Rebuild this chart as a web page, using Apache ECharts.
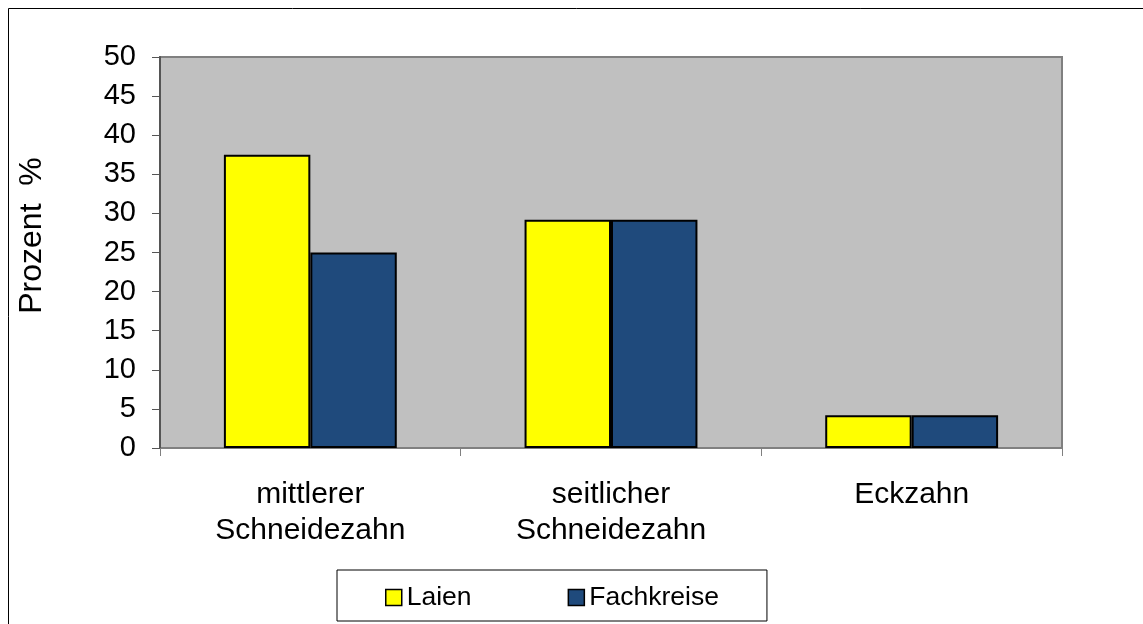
<!DOCTYPE html>
<html>
<head>
<meta charset="utf-8">
<script src="https://cdn.jsdelivr.net/npm/echarts@6/dist/echarts.min.js"></script>
<style>
html,body{margin:0;padding:0;background:#fff;}
#c{width:1143px;height:624px;}
</style>
</head>
<body>
<div id="c"></div>
<script>
const categories = ['mittlerer\nSchneidezahn', 'seitlicher\nSchneidezahn', 'Eckzahn'];
const laien = [37.5, 29.2, 4.2];
const fachkreise = [25.0, 29.2, 4.2];
const seriesNames = ['Laien', 'Fachkreise'];
const yTitle = 'Prozent  %';

const chart = echarts.init(document.getElementById('c'), null, {renderer: 'canvas'});
const font = 'Liberation Sans, Arial, sans-serif';
chart.setOption({
  animation: false,
  textStyle: {fontFamily: font},
  graphic: [{
    type: 'rect',
    shape: {x: 8.5, y: 8.5, width: 1145, height: 625},
    style: {fill: 'none', stroke: '#000', lineWidth: 1},
    silent: true
  }],
  grid: {
    left: 160, right: 81, top: 57, bottom: 176,
    show: true, backgroundColor: '#C0C0C0', borderColor: '#808080', borderWidth: 2
  },
  legend: {
    left: 337, top: 570,
    data: seriesNames,
    icon: 'rect',
    itemWidth: 16, itemHeight: 16,
    itemGap: 96,
    padding: [14, 48, 10, 48],
    borderColor: '#000', borderWidth: 1,
    textStyle: {fontSize: 26.5, color: '#000', fontFamily: font},
    itemStyle: {borderColor: '#000', borderWidth: 1.5}
  },
  xAxis: {
    type: 'category',
    data: categories,
    axisLine: {lineStyle: {color: '#808080', width: 1}},
    axisTick: {show: true, length: 8, lineStyle: {color: '#808080'}, alignWithLabel: false},
    axisLabel: {fontSize: 30, color: '#000', lineHeight: 36, margin: 29, fontFamily: font}
  },
  yAxis: {
    type: 'value',
    min: 0, max: 50, interval: 5,
    name: yTitle,
    nameLocation: 'middle',
    nameGap: 112,
    nameRotate: 90,
    nameTextStyle: {fontSize: 32, color: '#000', fontFamily: font, padding: [0, 0, 0, 34]},
    axisLine: {show: true, lineStyle: {color: '#555', width: 2}},
    axisTick: {show: true, length: 8, lineStyle: {color: '#555'}},
    splitLine: {show: false},
    axisLabel: {fontSize: 29, color: '#000', margin: 24, fontFamily: font}
  },
  series: [
    {
      name: seriesNames[0], type: 'bar', data: laien,
      barGap: '0%', barCategoryGap: '42.5%',
      itemStyle: {color: '#FFFF00', borderColor: '#000', borderWidth: 2}
    },
    {
      name: seriesNames[1], type: 'bar', data: fachkreise,
      barGap: '0%', barCategoryGap: '42.5%',
      itemStyle: {color: '#1F4A7C', borderColor: '#000', borderWidth: 2}
    }
  ]
});
</script>
</body>
</html>
